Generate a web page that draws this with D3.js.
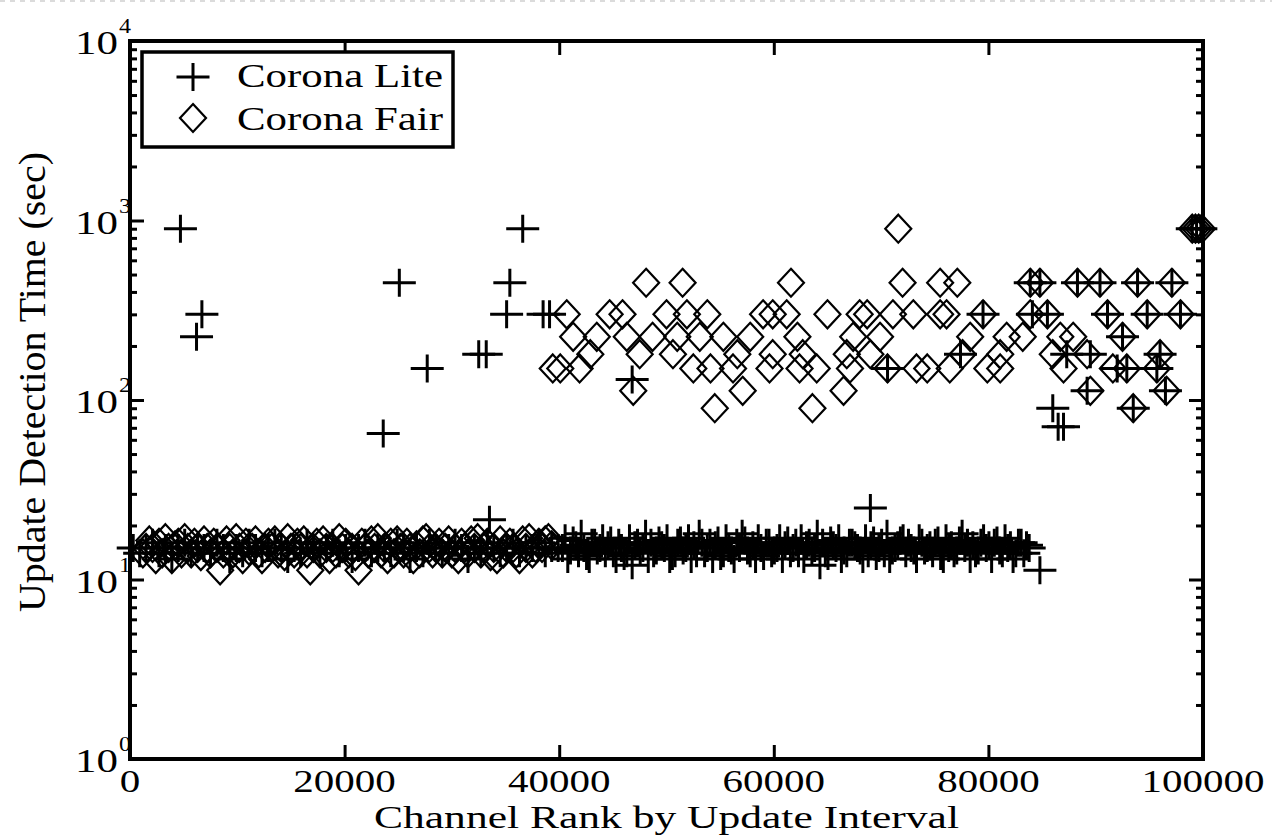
<!DOCTYPE html>
<html>
<head>
<meta charset="utf-8">
<script src="https://cdn.jsdelivr.net/npm/d3@7"></script>
<style>
  html, body { margin: 0; padding: 0; background: #fff; }
  text { font-family: "Liberation Serif", "Times New Roman", serif; fill: #000; }
</style>
</head>
<body>
<div id="d3-container"></div>
<script>
/**
 * CONSTANTS AND GLOBALS
 * */
const width = 1272,
  height = 835,
  margin = { top: 41, bottom: 76, left: 130, right: 69 };

const xTicks = [0, 20000, 40000, 60000, 80000, 100000];
const yDecades = [1, 10, 100, 1000, 10000];

const seriesNames = ["Corona Lite", "Corona Fair"];

// Corona Lite: the dense band near 15 sec
const liteBandRank = [300, 900, 1500, 2100, 2700, 3300, 3900, 4500, 5100, 5700, 6300, 6900,
  7500, 8100, 8700, 9300, 9900, 10500, 11100, 11700, 12300, 12900, 13500, 14100, 14700, 15300,
  15900, 16500, 17100, 17700, 18300, 18900, 19500, 20100, 20700, 21300, 21900, 22500, 23100,
  23700, 24300, 24900, 25500, 26100, 26700, 27300, 27900, 28500, 29100, 29700, 30300, 30900,
  31500, 32100, 32700, 33300, 33900, 34500, 35100, 35700, 36300, 36900, 37500, 38100, 38700,
  39300, 39900,
  40300, 40800, 41300, 41800, 42300, 42800, 43300, 43800, 44300, 44800, 45300,
  45800, 46300, 46800, 47300, 47800, 48300, 48800, 49300, 49800, 50300, 50800,
  51300, 51800, 52300, 52800, 53300, 53800, 54300, 54800, 55300, 55800, 56300,
  56800, 57300, 57800, 58300, 58800, 59300, 59800, 60300, 60800, 61300, 61800,
  62300, 62800, 63300, 63800, 64300, 64800, 65300, 65800, 66300, 66800, 67300,
  67800, 68300, 68800, 69300, 69800, 70300, 70800, 71300, 71800, 72300, 72800,
  73300, 73800, 74300, 74800, 75300, 75800, 76300, 76800, 77300, 77800, 78300,
  78800, 79300, 79800, 80300, 80800, 81300, 81800, 82300, 82800, 83300, 83800];
const liteBandTime = [15, 14, 15, 16, 14, 15, 13, 15, 16, 14,
  15, 15, 14, 16, 15, 13, 15, 14, 16, 15,
  14, 15, 16, 15, 13, 15, 14, 16, 15, 14,
  15, 16, 14, 15, 13, 15, 16, 14, 15, 15,
  14, 16, 15, 13, 15, 14, 16, 15, 14, 15,
  16, 15, 13, 15, 14, 16, 15, 14, 15, 16,
  14, 15, 15, 16, 14, 15, 15,
  15, 13, 16.5, 14, 15, 13, 16, 15, 14, 16.5, 13,
  15, 14, 12, 16, 15, 13, 14, 16.5, 15, 13, 14,
  16.5, 15, 13, 14, 16, 15, 13, 16.5, 14, 15, 13,
  15, 16.5, 14, 13, 15, 16, 14, 15, 13, 16.5, 15,
  14, 13, 16, 15, 12, 14, 16.5, 15, 13, 14, 16,
  15, 13, 14, 16.5, 15, 14, 13, 15, 16.5, 14, 15,
  13, 16, 15, 14, 16.5, 13, 15, 14, 16.5, 15, 13,
  14, 16, 15, 13, 16.5, 14, 15, 13, 16, 14, 15];

// Corona Lite: the in-between channels of the band from 40000 on
const liteFillRank = [40550, 41050, 41550, 42050, 42550, 43050, 43550, 44050, 44550, 45050, 45550,
  46050, 46550, 47050, 47550, 48050, 48550, 49050, 49550, 50050, 50550, 51050,
  51550, 52050, 52550, 53050, 53550, 54050, 54550, 55050, 55550, 56050, 56550,
  57050, 57550, 58050, 58550, 59050, 59550, 60050, 60550, 61050, 61550, 62050,
  62550, 63050, 63550, 64050, 64550, 65050, 65550, 66050, 66550, 67050, 67550,
  68050, 68550, 69050, 69550, 70050, 70550, 71050, 71550, 72050, 72550, 73050,
  73550, 74050, 74550, 75050, 75550, 76050, 76550, 77050, 77550, 78050, 78550,
  79050, 79550, 80050, 80550, 81050, 81550, 82050, 82550, 83050, 83550];
const liteFillTime = [17, 14.5, 15.5, 18, 13.5, 16, 14.5, 17, 15.5, 14, 16,
  13.5, 17, 15.5, 14.5, 18, 16, 14.5, 15.5, 17, 13.5, 16,
  14.5, 17, 15.5, 18, 14, 16, 15.5, 13.5, 17, 14.5, 16,
  18, 14.5, 15.5, 17, 13.5, 16, 14.5, 17, 15.5, 14, 16,
  17, 15.5, 14.5, 18, 16, 13.5, 15.5, 17, 14.5, 16, 15.5,
  14.5, 17, 15.5, 13.5, 16, 18, 14.5, 15.5, 17, 16, 14.5,
  17, 14.5, 15.5, 16, 13.5, 17, 15.5, 14.5, 18, 16, 15.5,
  14.5, 17, 15.5, 16, 14.5, 17, 15.5, 14, 16, 15.5];

// Corona Lite: points off the band
const liteSpikeRank = [4700, 6200, 6700, 23600, 25100, 27700, 32500, 33200, 33500, 35100, 35400,
  36600, 38500, 39100, 46800, 69000, 70600, 77400, 79500, 83900, 84100, 84800, 85500, 84800,
  86000, 86500, 87000, 87300, 88300, 89200, 89500, 90400, 91100, 92000, 92500, 92900, 93500,
  93900, 94800, 95700, 96000, 96500, 97100, 97900, 99000, 99400, 99800];
const liteSpikeTime = [900, 225, 300, 65, 450, 150, 180, 180, 21.5, 300, 450,
  900, 300, 300, 130, 25, 150, 180, 300, 450, 300, 450, 300, 11.25,
  90, 71, 71, 180, 450, 112.5, 180, 450, 300, 150, 225, 150, 90,
  450, 300, 150, 180, 112.5, 450, 300, 900, 900, 900];

// Corona Fair: the dense band for the first 40000 channels
const fairBandRank = [1200, 1500, 1800, 2100, 2400, 2700, 3000, 3300, 3600, 3900, 4200, 4500, 4800,
  5100, 5400, 5700, 6000, 6300, 6600, 6900, 7200, 7500, 7800, 8100, 8400, 8700,
  9000, 9300, 9600, 9900, 10200, 10500, 10800, 11100, 11400, 11700, 12000, 12300, 12600,
  12900, 13200, 13500, 13800, 14100, 14400, 14700, 15000, 15300, 15600, 15900, 16200, 16500,
  16800, 17100, 17400, 17700, 18000, 18300, 18600, 18900, 19200, 19500, 19800, 20100, 20400,
  20700, 21000, 21300, 21600, 21900, 22200, 22500, 22800, 23100, 23400, 23700, 24000, 24300,
  24600, 24900, 25200, 25500, 25800, 26100, 26400, 26700, 27000, 27300, 27600, 27900, 28200,
  28500, 28800, 29100, 29400, 29700, 30000, 30300, 30600, 30900, 31200, 31500, 31800, 32100,
  32400, 32700, 33000, 33300, 33600, 33900, 34200, 34500, 34800, 35100, 35400, 35700, 36000,
  36300, 36600, 36900, 37200, 37500, 37800, 38100, 38400, 38700, 39000, 39300];
const fairBandTime = [14, 15, 16.5, 15, 13, 16, 14, 17, 15, 13, 15.5, 16, 14,
  17, 15, 14, 16, 15, 13.5, 16.5, 15, 14, 16, 15, 11.25, 14,
  16.5, 15, 14, 17, 15, 13, 16, 14.5, 15, 16.5, 14, 13, 15,
  16, 15, 16.5, 14, 15, 13.5, 17, 15, 14, 16, 15, 16.5, 14,
  11.25, 15, 16, 14, 16.5, 15, 13, 15, 14, 17, 15, 16, 14,
  15, 13.5, 11.25, 16, 15, 14, 16.5, 15, 17, 14, 15, 13, 16,
  14, 16.5, 15, 14, 16, 15, 13, 15.5, 14, 16.5, 17, 15, 14,
  15, 16, 14, 15, 16.5, 14, 15, 13, 16, 15, 14, 16.5, 15,
  17, 14, 15, 16, 13.5, 15, 13, 16.5, 14, 15, 16, 15, 14,
  13, 16.5, 15, 17, 14, 15, 16, 15, 16.5, 17, 15.5];

// Corona Fair: the upper cluster, one rank list per detection-time level
const fairLevels = [900, 450, 300, 225, 180, 150, 112.5, 90];
const fairLevelRanks = [
  [71600, 99000, 99300, 99600, 99900],
  [48100, 51500, 61600, 72000, 75500, 77100, 83900, 84800, 88300, 90400, 93900, 97100],
  [40700, 44700, 45900, 50000, 51900, 53800, 59000, 59900, 61200, 65000, 68000, 68700, 71100,
    73000, 75500, 76100, 79500, 83900, 85500, 91100, 94800, 97900],
  [41300, 43500, 46300, 48700, 51000, 53100, 55300, 57800, 62200, 67400, 69900, 78300, 81700,
    83200, 86700, 87900, 92500],
  [42900, 47500, 50600, 56600, 59900, 62700, 66800, 69000, 77600, 81100, 86000, 89200, 96000],
  [39400, 40100, 41900, 52500, 54100, 56200, 59600, 62400, 64000, 67100, 70600, 73300, 74300,
    76400, 79900, 81100, 87000, 91600, 92900, 95700],
  [46900, 57100, 66500, 89500, 96600],
  [54500, 63600, 93500]
];

let svg;

/**
 * BUILD THE POINT LISTS
 * */
const litePoints = liteBandRank.map((r, i) => ({ rank: r, time: liteBandTime[i] }))
  .concat(liteFillRank.map((r, i) => ({ rank: r, time: liteFillTime[i] })))
  .concat(liteSpikeRank.map((r, i) => ({ rank: r, time: liteSpikeTime[i] })));

const fairPoints = fairBandRank.map((r, i) => ({ rank: r, time: fairBandTime[i] }));
fairLevels.forEach((lv, i) => {
  fairLevelRanks[i].forEach(r => fairPoints.push({ rank: r, time: lv }));
});

init();

function init() {
  svg = d3.select("#d3-container")
    .append("svg")
    .attr("width", width)
    .attr("height", height)
    .style("display", "block");

  svg.append("rect").attr("width", width).attr("height", height).attr("fill", "#fff");
  // faint dashed page edge at the very top
  svg.append("line")
    .attr("x1", 0).attr("x2", width).attr("y1", 1).attr("y2", 1)
    .attr("stroke", "#d0d0d0").attr("stroke-width", 1.5).attr("stroke-dasharray", "5,5");

  const x = d3.scaleLinear()
    .domain([0, 100000])
    .range([margin.left, width - margin.right]);

  const y = d3.scaleLog()
    .domain([1, 10000])
    .range([height - margin.bottom, margin.top]);

  const minorY = [];
  yDecades.slice(0, -1).forEach(d => {
    for (let k = 2; k <= 9; k++) minorY.push(d * k);
  });

  const x0 = margin.left, x1 = width - margin.right;
  const y0 = height - margin.bottom, y1 = margin.top;

  // ---- ticks (inward, on all four sides)
  const tickStyle = g => {
    g.select(".domain").remove();
    g.selectAll("line").attr("stroke", "#000").attr("stroke-width", 3);
    g.selectAll("text").remove();
  };

  svg.append("g").attr("transform", `translate(0,${y0})`)
    .call(d3.axisBottom(x).tickValues(xTicks).tickSize(-14).tickSizeOuter(0))
    .call(tickStyle);
  svg.append("g").attr("transform", `translate(0,${y1})`)
    .call(d3.axisTop(x).tickValues(xTicks).tickSize(-14).tickSizeOuter(0))
    .call(tickStyle);

  svg.append("g").attr("transform", `translate(${x0},0)`)
    .call(d3.axisLeft(y).tickValues(yDecades).tickSize(-14).tickSizeOuter(0))
    .call(tickStyle);
  svg.append("g").attr("transform", `translate(${x0},0)`)
    .call(d3.axisLeft(y).tickValues(minorY).tickSize(-7).tickSizeOuter(0))
    .call(tickStyle);
  svg.append("g").attr("transform", `translate(${x1},0)`)
    .call(d3.axisRight(y).tickValues(yDecades).tickSize(-14).tickSizeOuter(0))
    .call(tickStyle);
  svg.append("g").attr("transform", `translate(${x1},0)`)
    .call(d3.axisRight(y).tickValues(minorY).tickSize(-7).tickSizeOuter(0))
    .call(tickStyle);

  // ---- tick labels
  svg.append("g").selectAll("text")
    .data(xTicks)
    .join("text")
    .attr("x", d => x(d))
    .attr("y", y0 + 33)
    .attr("text-anchor", "middle")
    .attr("font-size", 32)
    .attr("textLength", d => String(d).length * 20.5)
    .attr("lengthAdjust", "spacingAndGlyphs")
    .text(d => d);

  const yLab = svg.append("g").selectAll("g")
    .data(yDecades)
    .join("g");
  yLab.append("text")
    .attr("x", 118)
    .attr("y", d => y(d) + 13)
    .attr("text-anchor", "end")
    .attr("font-size", 34)
    .attr("textLength", 43)
    .attr("lengthAdjust", "spacingAndGlyphs")
    .text("10");
  yLab.append("text")
    .attr("x", 119)
    .attr("y", d => y(d) - 8)
    .attr("font-size", 22)
    .attr("textLength", 12)
    .attr("lengthAdjust", "spacingAndGlyphs")
    .text(d => Math.round(Math.log10(d)));

  // ---- axis titles
  svg.append("text")
    .attr("x", (x0 + x1) / 2)
    .attr("y", 828)
    .attr("text-anchor", "middle")
    .attr("font-size", 32)
    .attr("textLength", 585)
    .attr("lengthAdjust", "spacingAndGlyphs")
    .text("Channel Rank by Update Interval");

  svg.append("text")
    .attr("transform", `translate(45,382) rotate(-90)`)
    .attr("text-anchor", "middle")
    .attr("font-size", 38)
    .attr("textLength", 460)
    .attr("lengthAdjust", "spacingAndGlyphs")
    .text("Update Detection Time (sec)");

  // ---- markers
  const plusPath = (cx, cy) => `M${cx - 16.5},${cy}H${cx + 16.5}M${cx},${cy - 14}V${cy + 14}`;
  const diamondPath = (cx, cy) => `M${cx},${cy - 14}L${cx + 13},${cy}L${cx},${cy + 14}L${cx - 13},${cy}Z`;

  const plot = svg.append("g");

  plot.selectAll("path.lite")
    .data(litePoints)
    .join("path")
    .attr("class", "lite")
    .attr("d", d => plusPath(x(d.rank), y(d.time)))
    .attr("fill", "none")
    .attr("stroke", "#000")
    .attr("stroke-width", 3);

  plot.selectAll("path.fair")
    .data(fairPoints)
    .join("path")
    .attr("class", "fair")
    .attr("d", d => diamondPath(x(d.rank), y(d.time)))
    .attr("fill", "none")
    .attr("stroke", "#000")
    .attr("stroke-width", 2.2);

  // ---- frame
  svg.append("rect")
    .attr("x", x0).attr("y", y1)
    .attr("width", x1 - x0).attr("height", y0 - y1)
    .attr("fill", "none")
    .attr("stroke", "#000")
    .attr("stroke-width", 4);

  // ---- legend
  const legend = svg.append("g");
  legend.append("rect")
    .attr("x", 142).attr("y", 52)
    .attr("width", 311).attr("height", 95)
    .attr("fill", "#fff")
    .attr("stroke", "#000")
    .attr("stroke-width", 3.5);

  legend.append("path")
    .attr("d", plusPath(193, 77))
    .attr("fill", "none").attr("stroke", "#000").attr("stroke-width", 3);
  legend.append("path")
    .attr("d", diamondPath(193, 118))
    .attr("fill", "none").attr("stroke", "#000").attr("stroke-width", 2.2);

  legend.selectAll("text.leg")
    .data(seriesNames)
    .join("text")
    .attr("class", "leg")
    .attr("x", 237)
    .attr("y", (d, i) => 87 + i * 43)
    .attr("font-size", 34)
    .attr("textLength", 206)
    .attr("lengthAdjust", "spacingAndGlyphs")
    .text(d => d);
}
</script>
</body>
</html>
